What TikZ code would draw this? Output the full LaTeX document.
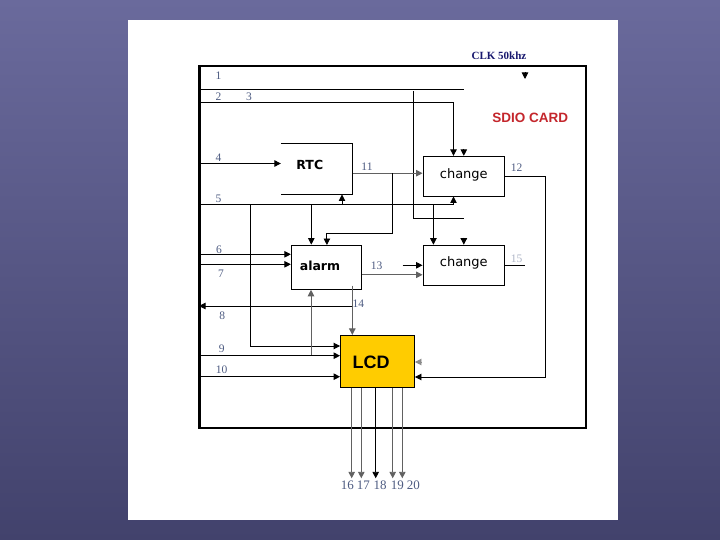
\documentclass[tikz,border=0pt]{standalone}
\usepackage{fontspec}
\setmainfont{Liberation Serif}
\newfontfamily\boxfont{DejaVu Sans}
\newfontfamily\cardfont{Liberation Sans}
\usepackage{tikz}
\usetikzlibrary{calc,positioning}
\usetikzlibrary{arrows.meta}
\definecolor{slidetop}{RGB}{106,106,156}
\definecolor{slidebot}{RGB}{66,66,108}
\definecolor{numblue}{RGB}{78,92,130}
\definecolor{clkblue}{RGB}{24,24,110}
\definecolor{cardred}{RGB}{196,38,44}
\definecolor{lcdyellow}{RGB}{255,204,0}
\tikzset{
    blk/.style={
        draw,
        line width=0.9pt,
        inner sep=0pt
    },
    % signal lines with a filled tip
    arr/.style={
        line width=0.9pt,
        -{Triangle[length=6.5pt, width=6.5pt]}
    },
    ln/.style={line width=0.9pt},
    grayln/.style={draw=black!62},
    num/.style={
        text=numblue,
        inner sep=0pt,
        font=\fontsize{11.5}{11.5}\selectfont
    }
}

\begin{document}
\begin{tikzpicture}[x=1pt,y=-1pt]
    \useasboundingbox (0,0) rectangle (720,540);
    \shade[top color=slidetop,bottom color=slidebot] (0,0) rectangle (720,540);
    \fill[white] (127.5,20) rectangle (618,520);
    \draw[line width=2.2pt] (199,66) rectangle (586,428);
    \draw[line width=3pt] (199,66) -- (199,428);

    % blocks
    \node[minimum width=71.5pt,minimum height=51pt,inner sep=0pt] (rtc) at (316.8,168.8) {};
    \node[blk,minimum width=81.6pt,minimum height=40.2pt] (chg1) at (463.8,176.4) {};
    \node[blk,minimum width=81.6pt,minimum height=40.3pt] (chg2) at (463.8,265.3) {};
    \node[blk,minimum width=70.2pt,minimum height=44.3pt] (alarm) at (326.4,267.2) {};
    \node[blk,fill=lcdyellow,minimum width=74pt,minimum height=52pt] (lcd) at (377.5,361.4) {};
    \draw[ln] (rtc.north west) -- (rtc.north east) -- (rtc.south east) -- (rtc.south west);

    \node[font=\boxfont\bfseries\fontsize{12.5}{12.5}\selectfont] (rtctxt) at ($(rtc.center)+(-7,-4)$) {RTC};
    \node[font=\boxfont\bfseries\fontsize{12.5}{12.5}\selectfont] (alarmtxt) at ($(alarm.center)+(-6.4,-1.7)$) {alarm};
    \node[font=\boxfont\fontsize{13}{13}\selectfont] (chg1txt) at ($(chg1.center)+(0,-1.4)$) {change};
    \node[font=\boxfont\fontsize{13}{13}\selectfont] (chg2txt) at ($(chg2.center)+(0,-2)$) {change};
    \node[font=\cardfont\bfseries\fontsize{18}{18}\selectfont] (lcdtxt) at ($(lcd.center)+(-6.5,0.6)$) {LCD};

    \node[text=clkblue,font=\bfseries\fontsize{11}{11}\selectfont] (clktxt) at (499,56) {CLK 50khz};
    \node[text=cardred,font=\cardfont\bfseries\fontsize{13.5}{13.5}\selectfont] (card) at (530.3,117.8) {SDIO CARD};

    % inputs on the left edge
    \coordinate (in1) at (199,89.3);
    \coordinate (in2) at (199,102.3);
    \coordinate (in4) at (199,163.5);
    \coordinate (in5) at (199,204.5);
    \coordinate (in6) at (199,254.3);
    \coordinate (in7) at (199,264.3);
    \coordinate (in8) at (199,306);
    \coordinate (in9) at (199,355.7);
    \coordinate (in10) at (199,376.7);

    \draw[ln] (in1) -- (463.5,89.3);
    \draw[arr] (in2) -| ($(chg1.north)+(-10.3,0)$);
    \coordinate (clk) at (525,72);
    \draw[arr] (clk) -- ++(0,7);
    \draw[arr] ($(chg1.north)+(0,-7)$) -- (chg1.north);
    \draw[ln] (413.3,91.5) -- (413.3,218) -- (463.5,218);
    \draw[arr] ($(chg2.north)+(0,-7)$) -- (chg2.north);

    \draw[arr] (in4) -- (rtc.west |- in4);
    \coordinate (o11) at ($(rtc.east)+(0,4.4)$);
    \draw[arr,grayln] (o11) -- (chg1.west |- o11);
    \draw[arr] (392.6,173.2) |- (326.9,233.5) -- (326.9,245) ;
    \coordinate (o12) at (chg1.east);
    \draw[arr] (o12) -- (545.5,176.4) |- ($(lcd.east)+(0,15.6)$);

    \draw[ln] (in5) -- (453.5,204.5);
    \draw[arr] (453.5,204.5) -- (453.5,196.5);
    \draw[arr] (342,204.5) -- (rtc.south -| 342,0);
    \draw[arr] (250.2,204.5) |- ($(lcd.west)+(0,-15.4)$);
    \draw[arr] (311.3,204.5) -- (alarm.north -| 311.3,0);
    \draw[arr] (433.4,204.5) -- (chg2.north -| 433.4,0);

    \draw[arr] (in6) -- (alarm.west |- in6);
    \draw[arr] (in7) -- (alarm.west |- in7);
    \coordinate (o13) at ($(alarm.east)+(0,7.6)$);
    \draw[arr,grayln] (o13) -- (chg2.west |- o13);
    \coordinate (c2in) at (402.7,265.3);
    \draw[arr] (c2in) -- (chg2.west |- c2in);
    \draw[ln] (chg2.east) -- (524.8,265.3);
    \draw[arr,draw=black!45] ($(lcd.east)+(7,0.6)$) -- ($(lcd.east)+(0,0.6)$);

    \coordinate (o14) at (352.3,285.5);
    \draw[arr,grayln] (o14) -- (lcd.north -| o14);
    \draw[arr] (352.3,306) -- (in8);
    \draw[arr,grayln] (311,355.7) -- (alarm.south -| 311,0);
    \draw[arr] (in9) -- (lcd.west |- in9);
    \draw[arr] (in10) -- (lcd.west |- in10);

    % outputs under the LCD
    \foreach \x/\c in {351.7/62,361.3/62,375.7/100,392.7/62,402.3/62}
        \draw[arr,draw=black!\c] (lcd.south -| \x,0) -- (\x,478.3);

    % pin numbers
    \node[num] (n1) at (218.5,76) {1};
    \node[num] (n2) at (218.5,97) {2};
    \node[num] (n3) at (249,97) {3};
    \node[num] (n4) at (218.5,158) {4};
    \node[num] (n5) at (218.5,198.7) {5};
    \node[num] (n6) at (219,250) {6};
    \node[num] (n7) at (221,274) {7};
    \node[num] (n8) at (222.3,315.7) {8};
    \node[num] (n9) at (221.7,349) {9};
    \node[num] (n10) at (221.7,369.3) {10};
    \node[num] (n11) at (367,166.3) {11};
    \node[num] (n12) at (516.5,168) {12};
    \node[num] (n13) at (376.5,266.2) {13};
    \node[num] (n14) at (358.3,304) {14};
    \node[num,text=numblue!45] (n15) at (516.5,258.3) {15};
    \node[num,font=\fontsize{13}{13}\selectfont] (n16) at (347.3,485.7) {16};
    \node[num,font=\fontsize{13}{13}\selectfont] (n17) at (363.3,485.7) {17};
    \node[num,font=\fontsize{13}{13}\selectfont] (n18) at (380,485.7) {18};
    \node[num,font=\fontsize{13}{13}\selectfont] (n19) at (397.3,485.7) {19};
    \node[num,font=\fontsize{13}{13}\selectfont] (n20) at (413.3,485.7) {20};
\end{tikzpicture}
\end{document}
